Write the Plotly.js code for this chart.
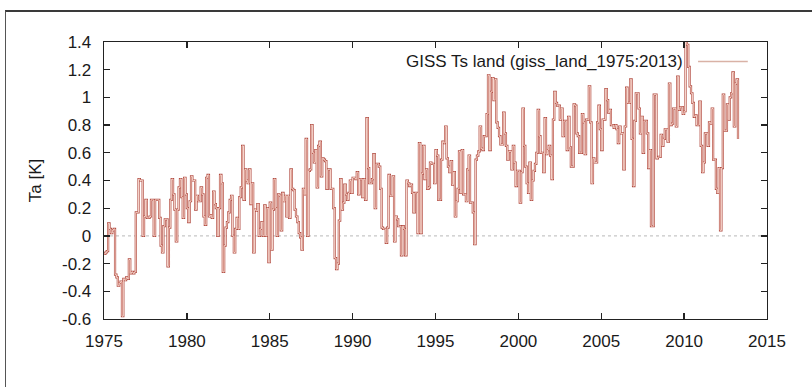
<!DOCTYPE html>
<html>
<head>
<meta charset="utf-8">
<script src="https://cdn.plot.ly/plotly-3.0.1.min.js"></script>
<style>
  html, body { margin: 0; padding: 0; background: #ffffff; }
  #wrap { position: relative; width: 812px; height: 387px; overflow: hidden; }
  #chart { width: 812px; height: 387px; }
  #frame { position: absolute; left: 5px; top: 10px; width: 812px; height: 375px;
           border-top: 2px solid #3a3a3a; border-left: 1px solid #555; border-bottom: 1px solid #777;
           pointer-events: none; }
</style>
</head>
<body>
<div id="wrap">
  <div id="chart"></div>
  <div id="frame"></div>
</div>
<script>
// Monthly GISS land temperature anomaly [K], January 1975 onward
const startYear = 1975;
const ta1970s = [
  -0.13, -0.12, -0.11, 0.09, 0.05, 0.02, 0.04, 0.05, -0.28, -0.30, -0.36, -0.34,
  -0.33, -0.58, -0.31, -0.32, -0.30, -0.31, -0.17, -0.27, -0.26, -0.27, -0.26, 0.17,
  0.17, 0.41, 0.40, 0.40, 0.00, 0.14, 0.26, 0.13, 0.13, 0.14, 0.26, 0.26,
  0.00, 0.26, 0.26, 0.26, 0.13, -0.07, -0.12, 0.07, 0.12, 0.12, -0.22, 0.06,
  0.26, 0.41, 0.30, 0.19, -0.04, 0.19, 0.35, 0.41, 0.28, 0.13, 0.42, 0.30
];
const ta1980s = [
  0.20, 0.10, 0.25, 0.43, 0.40, 0.40, 0.19, 0.29, 0.25, 0.25, 0.35, 0.30,
  0.14, 0.08, 0.42, 0.44, 0.14, 0.15, 0.13, 0.32, 0.23, 0.20, 0.00, 0.20,
  0.44, 0.38, -0.26, -0.07, 0.06, 0.10, 0.17, 0.26, 0.29, 0.00, -0.12, 0.05,
  0.13, 0.05, 0.28, 0.35, 0.65, 0.26, 0.48, 0.40, 0.38, 0.48, 0.23, 0.38,
  -0.12, 0.19, 0.18, 0.23, 0.00, 0.05, 0.10, 0.00, 0.22, 0.00, 0.20, -0.19,
  0.24, -0.10, 0.19, 0.41, 0.20, 0.00, 0.30, 0.29, 0.04, 0.31, 0.25, 0.29,
  0.14, 0.29, 0.13, 0.48, 0.34, 0.33, 0.19, 0.14, 0.10, 0.02, -0.01, -0.10,
  0.34, 0.30, 0.70, 0.00, 0.47, 0.48, 0.80, 0.60, 0.53, 0.62, 0.35, 0.65,
  0.68, 0.43, 0.56, 0.55, 0.54, 0.34, 0.48, 0.48, 0.34, 0.34, 0.20, -0.16,
  -0.24, -0.20, 0.11, 0.41, 0.19, 0.24, 0.37, 0.30, 0.26, 0.31, 0.40, 0.31
];
const ta1990s = [
  0.42, 0.42, 0.41, 0.46, 0.30, 0.41, 0.41, 0.28, 0.41, 0.26, 0.85, 0.49,
  0.38, 0.38, 0.41, 0.59, 0.20, 0.52, 0.52, 0.50, 0.34, 0.06, 0.05, 0.05,
  -0.05, 0.06, 0.44, 0.29, 0.29, 0.43, -0.04, 0.14, 0.12, 0.07, 0.07, -0.14,
  0.07, 0.05, -0.14, 0.40, 0.38, 0.36, 0.37, 0.31, 0.17, 0.31, 0.31, 0.02,
  0.67, 0.02, 0.45, 0.65, 0.41, 0.48, 0.34, 0.35, 0.53, 0.52, 0.52, 0.38,
  0.62, 0.58, 0.26, 0.26, 0.55, 0.68, 0.67, 0.79, 0.56, 0.50, 0.46, 0.54,
  0.37, 0.46, 0.14, 0.25, 0.34, 0.61, 0.31, 0.62, 0.30, 0.30, 0.25, 0.48,
  0.58, 0.24, 0.24, 0.17, -0.06, 0.55, 0.58, 0.61, 0.79, 0.63, 0.62, 0.72,
  0.72, 0.88, 1.16, 0.62, 1.04, 1.14, 0.98, 1.13, 0.82, 0.78, 0.72, 0.66,
  0.66, 0.89, 0.74, 0.65, 0.55, 0.61, 0.61, 0.48, 0.65, 0.53, 0.36, 0.47
];
const ta2000s = [
  0.47, 0.24, 0.46, 0.92, 0.65, 0.50, 0.38, 0.31, 0.53, 0.26, 0.40, 0.47,
  0.52, 0.60, 0.91, 0.72, 0.60, 0.60, 0.46, 0.85, 0.59, 0.62, 0.65, 0.58,
  0.41, 0.84, 1.04, 0.96, 0.94, 0.94, 0.84, 0.92, 0.72, 0.83, 0.83, 0.62,
  0.86, 0.64, 0.50, 0.50, 0.95, 0.94, 0.74, 0.72, 0.60, 0.60, 0.88, 0.82,
  0.59, 0.84, 0.84, 1.08, 0.82, 0.38, 0.56, 0.53, 0.53, 0.82, 0.94, 0.77,
  0.62, 0.84, 0.84, 1.06, 0.98, 0.89, 0.91, 0.80, 0.80, 0.78, 0.80, 0.77,
  0.67, 0.79, 0.74, 0.74, 0.48, 0.79, 1.07, 0.96, 0.96, 1.13, 0.70, 0.36,
  0.83, 1.03, 1.03, 0.92, 0.74, 0.86, 0.60, 0.83, 0.83, 0.74, 0.49, 0.62,
  0.07, 0.07, 1.02, 1.02, 0.56, 0.57, 0.57, 0.73, 0.65, 0.70, 0.77, 0.77,
  0.68, 1.10, 0.80, 0.81, 0.92, 0.92, 0.79, 1.15, 0.91, 0.93, 0.93, 0.88
];
const ta2010s = [
  0.90, 1.42, 1.38, 1.22, 1.08, 1.03, 0.96, 0.86, 0.87, 0.80, 0.80, 0.97,
  0.65, 0.46, 0.53, 0.74, 0.74, 0.65, 0.82, 0.81, 0.92, 0.55, 0.55, 0.34,
  0.31, 0.49, 0.04, 0.49, 1.02, 0.76, 0.76, 0.95, 0.84, 1.00, 1.03, 1.18,
  0.79, 1.10, 1.13, 0.70
];
const seriesName = 'GISS Ts land (giss_land_1975:2013)';
const xTickVals = [1975, 1980, 1985, 1990, 1995, 2000, 2005, 2010, 2015];
const yTickVals = [-0.6, -0.4, -0.2, 0, 0.2, 0.4, 0.6, 0.8, 1, 1.2, 1.4];
const yTickText = ['-0.6', '-0.4', '-0.2', '0', '0.2', '0.4', '0.6', '0.8', '1', '1.2', '1.4'];

const ta = [].concat(ta1970s, ta1980s, ta1990s, ta2000s, ta2010s);
const t = ta.map((v, i) => startYear + i / 12);

const FONT = 'Liberation Sans, Arial, sans-serif';

const traces = [
  { x: t, y: ta, type: 'scatter', mode: 'lines', line: { shape: 'hv', color: '#b04a40', width: 2.2 },
    showlegend: false, hoverinfo: 'skip' },
  { x: t, y: ta, type: 'scatter', mode: 'lines', name: seriesName,
    line: { shape: 'hv', color: '#f7d6cc', width: 1.0 }, showlegend: false }
];

const axisCommon = {
  showline: true, linecolor: '#222', linewidth: 1.3, mirror: 'allticks',
  ticks: 'inside', ticklen: 6, tickwidth: 1.3, tickcolor: '#222',
  showgrid: false, zeroline: false,
  tickfont: { family: FONT, size: 17, color: '#1a1a1a' }
};

const layout = {
  width: 812, height: 387,
  margin: { l: 104, r: 45, t: 42, b: 68 },
  paper_bgcolor: '#ffffff', plot_bgcolor: '#ffffff',
  font: { family: FONT, color: '#1a1a1a' },
  xaxis: Object.assign({}, axisCommon, {
    range: [1975, 2015], tickvals: xTickVals, ticklabelstandoff: 6
  }),
  yaxis: Object.assign({}, axisCommon, {
    range: [-0.6, 1.4], tickvals: yTickVals, ticktext: yTickText, ticklabelstandoff: 8,
    title: { text: 'Ta [K]', font: { family: FONT, size: 17, color: '#1a1a1a' }, standoff: 16 }
  }),
  shapes: [
    { type: 'line', xref: 'paper', yref: 'y', x0: 0, x1: 1, y0: 0, y1: 0,
      line: { color: '#b8b8b8', width: 1, dash: 'dot' }, layer: 'below' },
    { type: 'line', xref: 'paper', yref: 'paper', x0: 0.896, x1: 0.971, y0: 0.93, y1: 0.93,
      line: { color: '#d9b2a6', width: 1.5 } }
  ],
  annotations: [
    { text: seriesName, xref: 'paper', yref: 'paper', x: 0.877, y: 0.93,
      xanchor: 'right', yanchor: 'middle', showarrow: false,
      font: { family: FONT, size: 17, color: '#1a1a1a' } }
  ],
  showlegend: false
};

Plotly.newPlot('chart', traces, layout, { displayModeBar: false, staticPlot: true });
</script>
</body>
</html>
